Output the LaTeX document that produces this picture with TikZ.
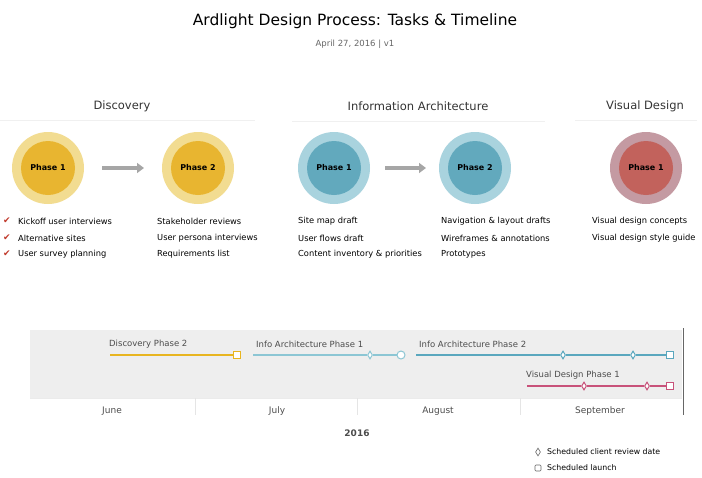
\documentclass[tikz,border=0pt]{standalone}
\usepackage{fontspec}
\setmainfont{DejaVu Sans}
\newfontfamily\symfont{DejaVu Sans}
\usetikzlibrary{shapes.geometric,arrows.meta}
\definecolor{yelO}{HTML}{F2DC91}
\definecolor{yelI}{HTML}{E8B530}
\definecolor{bluO}{HTML}{A9D3DE}
\definecolor{bluI}{HTML}{62A9BD}
\definecolor{redO}{HTML}{C49AA2}
\definecolor{redI}{HTML}{C2625C}
\definecolor{tlYel}{HTML}{E8B520}
\definecolor{tlLB}{HTML}{8CC6D4}
\definecolor{tlB}{HTML}{5AA7BE}
\definecolor{tlR}{HTML}{C8527A}
\definecolor{band}{HTML}{EEEEEE}
\definecolor{chk}{HTML}{C0392B}
\tikzset{
  outer/.style={circle,minimum size=72pt,inner sep=0pt},
  inner/.style={circle,minimum size=54pt,inner sep=0pt,font=\fontsize{8}{10}\selectfont\bfseries},
  hdr/.style={font=\fontsize{11.5}{13}\selectfont,text=black!80},
  item/.style={anchor=west,font=\fontsize{8.3}{10}\selectfont,inner sep=0pt},
  ck/.style={anchor=west,font=\symfont\fontsize{9}{10}\selectfont,text=chk,inner sep=0pt},
  flow/.style={line width=4pt,draw=gray!70,-{Triangle[length=7pt,width=10pt]}},
  tlabel/.style={anchor=south west,font=\fontsize{8.5}{10}\selectfont,text=black!70,inner sep=1pt},
  mon/.style={font=\fontsize{9}{10}\selectfont,text=black!70},
  dmark/.style={diamond,draw,fill=white,line width=1pt,minimum width=5pt,minimum height=8pt,inner sep=0pt},
  smark/.style={rectangle,draw,fill=white,line width=1.5pt,minimum size=7pt,inner sep=0pt},
  cmark/.style={circle,draw,fill=white,line width=1pt,minimum size=8pt,inner sep=0pt},
}
\begin{document}
\begin{tikzpicture}[x=1pt,y=-1pt]
\useasboundingbox (0,0) rectangle (702,477);
% title
\node[font=\fontsize{15.5}{18}\selectfont] (title) at (355,21) {Ardlight Design Process: Tasks \& Timeline};
\node[font=\fontsize{8.5}{10}\selectfont,text=black!60] (sub) at (355,44) {April 27, 2016 | v1};
% section headers
\node[hdr] (h1) at (122,106) {Discovery};
\node[hdr] (h2) at (418,106) {Information Architecture};
\node[hdr] (h3) at (645,106) {Visual Design};
\draw[black!6,line width=0.6pt] (0,120) -- (255,120);
\draw[black!6,line width=0.6pt] (292,121) -- (545,121);
\draw[black!6,line width=0.6pt] (575,120) -- (697,120);
% circles
\node[outer,fill=yelO] (d1o) at (48,168) {};
\node[inner,fill=yelI] (d1) at (48,168) {Phase 1};
\node[outer,fill=yelO] (d2o) at (198,168) {};
\node[inner,fill=yelI] (d2) at (198,168) {Phase 2};
\node[outer,fill=bluO] (i1o) at (334,168) {};
\node[inner,fill=bluI] (i1) at (334,168) {Phase 1};
\node[outer,fill=bluO] (i2o) at (475,168) {};
\node[inner,fill=bluI] (i2) at (475,168) {Phase 2};
\node[outer,fill=redO] (v1o) at (646,168) {};
\node[inner,fill=redI] (v1) at (646,168) {Phase 1};
\coordinate (a1s) at (102,168); \coordinate (a1e) at (144,168);
\coordinate (a2s) at (385,168); \coordinate (a2e) at (426,168);
\draw[flow] (a1s) -- (a1e);
\draw[flow] (a2s) -- (a2e);
% lists
\node[ck] (c1) at (3,221) {✔}; \node[item] (t1) at (18,221) {Kickoff user interviews};
\node[ck] (c2) at (3,238) {✔}; \node[item] (t2) at (18,238) {Alternative sites};
\node[ck] (c3) at (3,254) {✔}; \node[item] (t3) at (18,254) {User survey planning};
\node[item] (t4) at (157,221) {Stakeholder reviews};
\node[item] (t5) at (157,238) {User persona interviews};
\node[item] (t6) at (157,254) {Requirements list};
\node[item] (t7) at (298,221) {Site map draft};
\node[item] (t8) at (298,238) {User flows draft};
\node[item] (t9) at (298,254) {Content inventory \& priorities};
\node[item] (t10) at (441,221) {Navigation \& layout drafts};
\node[item] (t11) at (441,238) {Wireframes \& annotations};
\node[item] (t12) at (441,254) {Prototypes};
\node[item] (t13) at (592,221) {Visual design concepts};
\node[item] (t14) at (592,238) {Visual design style guide};
% timeline band
\fill[band] (30,330) rectangle (682,398);
\draw[black!8] (30,398) -- (682,398);
\draw[black!60,line width=0.8pt] (683,328) -- (683,415);
\foreach \x in {195,357,520} \draw[black!10] (\x,398) -- (\x,415);
\node[mon] (m1) at (112,411) {June};
\node[mon] (m2) at (277,411) {July};
\node[mon] (m3) at (438,411) {August};
\node[mon] (m4) at (600,411) {September};
\node[font=\fontsize{9}{10}\selectfont\bfseries,text=black!70] (yr) at (357,433) {2016};
% bars
\coordinate (b1s) at (110,355); \node[smark,draw=tlYel] (b1e) at (237,355) {};
\draw[tlYel,line width=1.5pt] (b1s) -- (b1e);
\node[tlabel] at (108,349) {Discovery Phase 2};
\coordinate (b2s) at (253,355); \node[dmark,draw=tlLB] (b2m) at (370,355) {}; \node[cmark,draw=tlLB] (b2e) at (401,355) {};
\draw[tlLB,line width=1.3pt] (b2s) -- (b2m) -- (b2e);
\node[tlabel] at (255,349) {Info Architecture Phase 1};
\coordinate (b3s) at (416,355); \node[dmark,draw=tlB] (b3m1) at (563,355) {}; \node[dmark,draw=tlB] (b3m2) at (633,355) {}; \node[smark,draw=tlB] (b3e) at (670,355) {};
\draw[tlB,line width=1.5pt] (b3s) -- (b3m1) -- (b3m2) -- (b3e);
\node[tlabel] at (418,349) {Info Architecture Phase 2};
\coordinate (b4s) at (527,386); \node[dmark,draw=tlR] (b4m1) at (584,386) {}; \node[dmark,draw=tlR] (b4m2) at (647,386) {}; \node[smark,draw=tlR] (b4e) at (670,386) {};
\draw[tlR,line width=1.5pt] (b4s) -- (b4m1) -- (b4m2) -- (b4e);
\node[tlabel] at (525,380) {Visual Design Phase 1};
% legend
\node[dmark,draw=black!60,line width=0.6pt] (l1) at (538,452) {};
\node[item,font=\fontsize{7.8}{9}\selectfont] (l1t) at (547,452) {Scheduled client review date};
\node[smark,draw=black!60,line width=0.6pt,minimum size=6pt,rounded corners=1pt] (l2) at (538,468) {};
\node[item,font=\fontsize{7.8}{9}\selectfont] (l2t) at (547,468) {Scheduled launch};
\end{tikzpicture}
\end{document}
